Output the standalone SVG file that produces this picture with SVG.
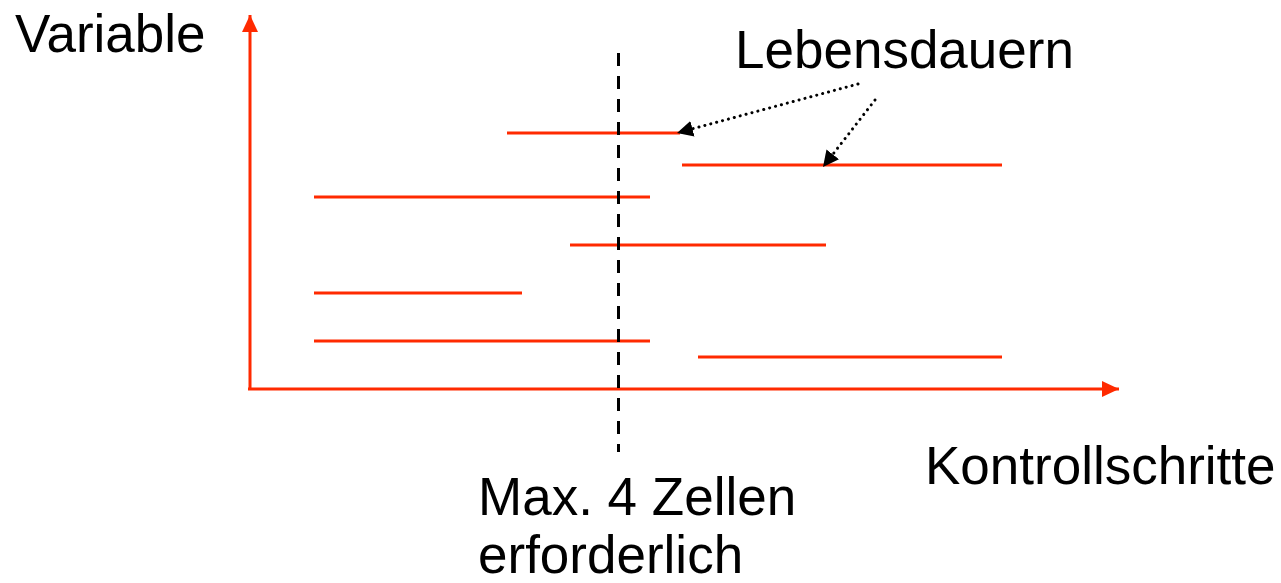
<svg xmlns="http://www.w3.org/2000/svg" width="1281" height="583" viewBox="0 0 1281 583">
<style>
.t{font-family:"Liberation Sans",Arial,sans-serif;font-size:53px;fill:#000}
.life{stroke:#ff2a00;stroke-width:3;fill:none}
.axis{stroke:#ff2a00;stroke-width:3;fill:none}
.dot{stroke:#000;stroke-width:3;stroke-dasharray:0.1 6;stroke-linecap:round;fill:none}
</style>
<defs>
<marker id="ah" markerUnits="userSpaceOnUse" markerWidth="18" markerHeight="18" refX="17" refY="8" orient="auto"><path d="M0,0 L17,8 L0,16 Z" fill="#ff2a00"/></marker>
<marker id="bh" markerUnits="userSpaceOnUse" markerWidth="18" markerHeight="18" refX="16" refY="8" orient="auto"><path d="M0,0 L16,8 L0,16 Z" fill="#000"/></marker>
</defs>
<rect width="1281" height="583" fill="#fff"/>
<g id="axes">
<line class="axis" x1="250" y1="390" x2="250" y2="15" marker-end="url(#ah)"/>
<line class="axis" x1="248" y1="389" x2="1119" y2="389" marker-end="url(#ah)"/>
</g>
<g id="lifetimes">
<line class="life" x1="507" y1="133" x2="680" y2="133"/>
<line class="life" x1="682" y1="165" x2="1002" y2="165"/>
<line class="life" x1="314" y1="197" x2="650" y2="197"/>
<line class="life" x1="570" y1="245" x2="826" y2="245"/>
<line class="life" x1="314" y1="293" x2="522" y2="293"/>
<line class="life" x1="314" y1="341" x2="650" y2="341"/>
<line class="life" x1="698" y1="357" x2="1002" y2="357"/>
</g>
<g id="cut">
<line x1="618.5" y1="53" x2="618.5" y2="452" stroke="#000" stroke-width="3" stroke-dasharray="13 10"/>
</g>
<g id="connectors">
<line class="dot" x1="858" y1="84" x2="677" y2="133" marker-end="url(#bh)"/>
<line class="dot" x1="875" y1="100" x2="823" y2="167" marker-end="url(#bh)"/>
</g>
<g id="labels">
<text class="t" x="15" y="52">Variable</text>
<text class="t" x="735" y="68">Lebensdauern</text>
<text class="t" x="925" y="484">Kontrollschritte</text>
<text class="t" x="478" y="515">Max. 4 Zellen</text>
<text class="t" x="478" y="573">erforderlich</text>
</g>
</svg>
